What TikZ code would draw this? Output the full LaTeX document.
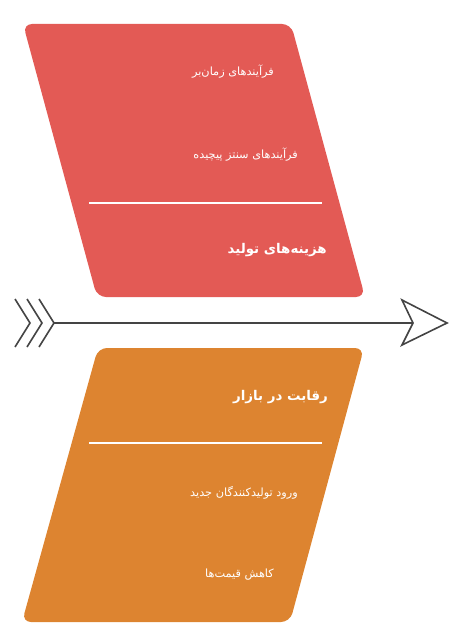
\documentclass[tikz,border=0pt]{standalone}
\usepackage{fontspec}
\newfontfamily\arabicfont[Script=Arabic]{DejaVu Sans}
\TeXXeTstate=1
\definecolor{boxred}{HTML}{E35A55}
\definecolor{boxorange}{HTML}{DD8430}
\definecolor{spine}{HTML}{444444}
\tikzset{
  boxshape/.style={rounded corners=9pt},
  itemtext/.style={anchor=east, text=white, inner sep=0pt, font=\arabicfont\fontsize{11.3}{13}\selectfont},
  titletext/.style={anchor=east, text=white, inner sep=0pt, font=\arabicfont\bfseries\fontsize{13.4}{16}\selectfont},
  sepline/.style={white, line width=1.3pt},
  spineline/.style={spine, line width=1.6pt, line join=miter},
}
\begin{document}
\begin{tikzpicture}[x=1pt,y=-1pt]
\useasboundingbox (0,0) rectangle (458,644);
% top box
\fill[boxred, boxshape] (23,24) -- (291,24) -- (365,297) -- (97,297) -- cycle;
% bottom box
\fill[boxorange, boxshape] (98,348) -- (364,348) -- (290,622) -- (22,622) -- cycle;
% separators
\coordinate (s1a) at (89,203); \coordinate (s1b) at (322,203);
\coordinate (s2a) at (89,443); \coordinate (s2b) at (322,443);
\draw[sepline] (s1a) -- (s1b);
\draw[sepline] (s2a) -- (s2b);
% texts top
\node[itemtext] (t1) at (274,72) {\beginR فرآیندهای زمان‌بر\endR};
\node[itemtext] (t2) at (298,155) {\beginR فرآیندهای سنتز پیچیده\endR};
\node[titletext] (tt) at (327,250) {\beginR هزینه‌های تولید\endR};
% texts bottom
\node[titletext] (bt) at (328,397) {\beginR رقابت در بازار\endR};
\node[itemtext] (b1) at (298,493) {\beginR ورود تولیدکنندگان جدید\endR};
\node[itemtext] (b2) at (274,575) {\beginR کاهش قیمت‌ها\endR};
% spine
\coordinate (tail) at (53,323);
\coordinate (head) at (413,323);
\draw[spineline] (tail) -- (head);
\draw[spineline] (402,300) -- (447,323) -- (402,345) -- (head) -- cycle;
\draw[spineline] (15,299) -- (30,323) -- (15,347);
\draw[spineline] (27,299) -- (42,323) -- (27,347);
\draw[spineline] (39,299) -- (54,323) -- (39,347);
\end{tikzpicture}
\end{document}
